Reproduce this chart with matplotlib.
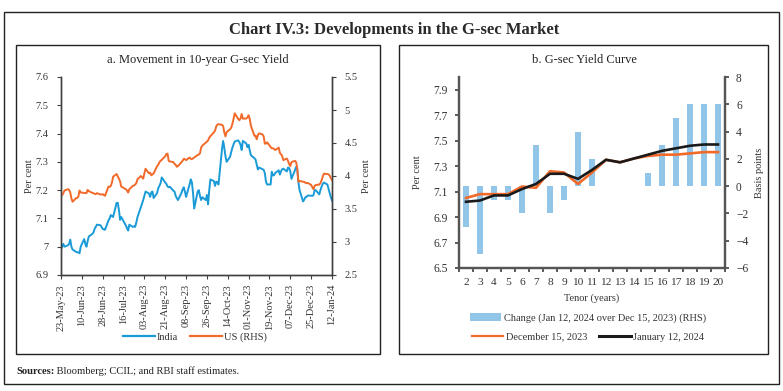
import matplotlib
matplotlib.use("Agg")
import matplotlib.pyplot as plt
import matplotlib.ticker as mticker
from matplotlib.patches import Rectangle, Patch
from matplotlib.lines import Line2D
import pandas as pd
import numpy as np

# ---------------- data ----------------
start_date = "2023-05-23"
end_date = "2024-01-12"

india_yield = [
    6.99, 7.00, 7.01, 7.00,
    7.005, 7.01, 7.025, 7.00, 6.99,
    6.982, 6.98, 6.98, 6.977, 7.00,
    7.027, 7.01, 7.00, 7.02, 7.036,
    7.045, 7.05, 7.063, 7.07, 7.078,
    7.076, 7.07, 7.063, 7.061, 7.06,
    7.093, 7.10, 7.112, 7.108, 7.105,
    7.155, 7.155, 7.13, 7.095, 7.105,
    7.083, 7.075, 7.065, 7.057, 7.078,
    7.07, 7.072, 7.07, 7.085, 7.104,
    7.14, 7.151, 7.165, 7.18, 7.195,
    7.188, 7.176, 7.192, 7.195, 7.172,
    7.19, 7.207, 7.215, 7.225, 7.245,
    7.227, 7.222, 7.213, 7.21, 7.212,
    7.198, 7.195, 7.18, 7.172, 7.165,
    7.19, 7.202, 7.21, 7.195, 7.176,
    7.22, 7.238, 7.228, 7.19, 7.135,
    7.195, 7.20, 7.18, 7.165, 7.175,
    7.165, 7.183, 7.15, 7.20, 7.238,
    7.232, 7.215, 7.23, 7.228, 7.22,
    7.344, 7.374, 7.35, 7.32, 7.30,
    7.318, 7.335, 7.35, 7.362, 7.372,
    7.376, 7.37, 7.36, 7.342, 7.374,
    7.365, 7.352, 7.36, 7.34, 7.323,
    7.313, 7.308, 7.29, 7.273, 7.28,
    7.274, 7.272, 7.26, 7.23, 7.22,
    7.22, 7.265, 7.252, 7.253, 7.261,
    7.27, 7.255, 7.267, 7.274, 7.276,
    7.266, 7.28, 7.278, 7.266, 7.24,
    7.27, 7.282, 7.272, 7.228, 7.20,
    7.16, 7.166, 7.175, 7.176, 7.181,
    7.18, 7.18, 7.182, 7.20, 7.20,
    7.185, 7.20, 7.212, 7.222, 7.227,
    7.22, 7.205, 7.19, 7.175, 7.163,
]

us_yield = [
    3.70, 3.71, 3.74, 3.78,
    3.80, 3.79, 3.75, 3.66, 3.61,
    3.665, 3.665, 3.69, 3.78, 3.75,
    3.745, 3.745, 3.74, 3.79, 3.77,
    3.745, 3.74, 3.73, 3.725, 3.74,
    3.72, 3.72, 3.725, 3.71, 3.70,
    3.84, 3.835, 3.85, 3.90, 3.99,
    4.03, 3.995, 3.96, 3.92, 3.84,
    3.81, 3.80, 3.78, 3.75, 3.80,
    3.85, 3.855, 3.87, 3.89, 3.95,
    4.00, 3.98, 3.96, 4.04, 4.11,
    4.04, 4.05, 4.01, 4.025, 4.04,
    4.15, 4.17, 4.21, 4.23, 4.245,
    4.30, 4.333, 4.34, 4.23, 4.22,
    4.21, 4.185, 4.17, 4.14, 4.15,
    4.21, 4.23, 4.26, 4.255, 4.24,
    4.28, 4.26, 4.255, 4.268, 4.28,
    4.318, 4.325, 4.343, 4.43, 4.46,
    4.505, 4.52, 4.54, 4.58, 4.604,
    4.66, 4.687, 4.75, 4.78, 4.785,
    4.776, 4.755, 4.66, 4.60, 4.665,
    4.707, 4.735, 4.79, 4.865, 4.95,
    4.865, 4.845, 4.87, 4.94, 4.87,
    4.87, 4.89, 4.92, 4.86, 4.76,
    4.61, 4.61, 4.556, 4.62, 4.646,
    4.63, 4.60, 4.49, 4.49, 4.51,
    4.44, 4.42, 4.42, 4.41, 4.394,
    4.43, 4.35, 4.33, 4.30, 4.24,
    4.265, 4.23, 4.18, 4.15, 4.21,
    4.23, 4.21, 4.12, 3.914, 3.925,
    3.914, 3.91, 3.898, 3.89, 3.895,
    3.865, 3.83, 3.80, 3.85, 3.864,
    3.87, 3.89, 3.935, 3.99, 4.035,
    4.03, 4.025, 4.005, 3.97, 3.94,
]

tenors = [2, 3, 4, 5, 6, 7, 8, 9, 10, 11, 12, 13, 14, 15, 16, 17, 18, 19, 20]
yield_dec15 = [7.05, 7.08, 7.08, 7.08, 7.14, 7.13, 7.26, 7.25, 7.16, 7.25,
               7.35, 7.33, 7.36, 7.38, 7.39, 7.39, 7.40, 7.41, 7.41]
yield_jan12 = [7.02, 7.03, 7.07, 7.07, 7.12, 7.16, 7.24, 7.24, 7.20, 7.27,
               7.35, 7.33, 7.36, 7.39, 7.42, 7.44, 7.46, 7.47, 7.47]
change_bps = [-3, -5, -1, -1, -2, 3, -2, -1, 4, 2, 0, 0, 0, 1, 3, 5, 6, 6, 6]

# ---------------- style ----------------
W, H = 783, 391
FONT = "Liberation Serif"
plt.rcParams["font.family"] = [FONT, "DejaVu Serif"]
plt.rcParams["font.size"] = 7.5
TXT = "#333333"
SPINE = "#404040"
C_INDIA = "#1a9bd7"
C_US = "#f26a2a"
C_BAR = "#92c6e8"
C_DEC = "#f26a2a"
C_JAN = "#1a1a1a"

fig = plt.figure(figsize=(W / 100, H / 100), dpi=100)


def fx(px):
    return px / W


def fy(py):
    return 1 - py / H


def rect(x0, y0, x1, y1, lw=1.0):
    fig.patches.append(Rectangle((fx(x0), fy(y1)), fx(x1) - fx(x0), fy(y0) - fy(y1),
                                 transform=fig.transFigure, fill=False,
                                 edgecolor="#222222", linewidth=lw))


# frames
rect(4, 12, 779, 384, 1.0)
rect(16, 45, 380, 354, 1.0)
rect(399, 45, 768, 354, 1.0)

fig.text(fx(394), fy(30), "Chart IV.3: Developments in the G-sec Market", ha="center", va="center",
         fontsize=12, fontweight="bold", color="#2a2a2a")

# ---------------- panel a ----------------
dates = pd.bdate_range(start_date, end_date)
n = min(len(dates), len(india_yield), len(us_yield))
dates = dates[:n]

axa = fig.add_axes([fx(61), fy(275), fx(332) - fx(61), fy(77) - fy(275)])
axa2 = axa.twinx()
axa.plot(dates, india_yield[:n], color=C_INDIA, lw=1.4)
axa2.plot(dates, us_yield[:n], color=C_US, lw=1.4)

axa.set_ylim(6.9, 7.6)
axa.yaxis.set_major_locator(mticker.MultipleLocator(0.1))
axa.yaxis.set_major_formatter(mticker.FuncFormatter(lambda v, p: f"{round(v, 2):g}"))
axa2.set_ylim(2.5, 5.5)
axa2.yaxis.set_major_locator(mticker.MultipleLocator(0.5))
axa2.yaxis.set_major_formatter(mticker.FuncFormatter(lambda v, p: f"{round(v, 2):g}"))

d0 = pd.Timestamp(start_date)
d1 = pd.Timestamp(end_date)
axa.set_xlim(d0, d1)
xt = pd.date_range(d0, d1, freq="18D")
axa.set_xticks(xt)
axa.set_xticklabels([d.strftime("%d-%b-%y") for d in xt], rotation=90)

for a in (axa, axa2):
    a.spines["top"].set_visible(False)
    for s in ("left", "right", "bottom"):
        a.spines[s].set_color(SPINE)
        a.spines[s].set_linewidth(1.0)
    a.tick_params(colors=SPINE, labelcolor=TXT, length=3, width=0.8, labelsize=7.5)
axa.tick_params(axis="y", pad=6)
axa2.tick_params(axis="y", pad=6)
axa.set_ylabel("Per cent", color=TXT, fontsize=7.5, labelpad=1)
axa2.set_ylabel("Per cent", color=TXT, fontsize=7.5, labelpad=3)

fig.text(fx(198), fy(60), "a. Movement in 10-year G-sec Yield", ha="center", va="center",
         fontsize=9, color="#222222")

fig.legend(handles=[Line2D([], [], color=C_INDIA, lw=1.6, label="India"),
                    Line2D([], [], color=C_US, lw=1.6, label="US (RHS)")],
           loc="center", bbox_to_anchor=(fx(195), fy(337)), ncol=2, frameon=False,
           fontsize=7.5, handlelength=3.0, columnspacing=1.2, handletextpad=0.2,
           labelcolor=TXT)

# ---------------- panel b ----------------
axb = fig.add_axes([fx(459), fy(268), fx(725) - fx(459), fy(77) - fy(268)])
axb2 = axb.twinx()
axb2.bar(tenors, change_bps, width=0.48, color=C_BAR, zorder=1)
axb.plot(tenors, yield_dec15, color=C_DEC, lw=1.9, zorder=3)
axb.plot(tenors, yield_jan12, color=C_JAN, lw=1.9, zorder=4)
axb.set_zorder(axb2.get_zorder() + 1)
axb.patch.set_visible(False)

axb.set_ylim(6.5, 8.0)
axb.set_yticks(np.arange(6.5, 7.91, 0.2))
axb.yaxis.set_major_formatter(mticker.FuncFormatter(lambda v, p: f"{v:.1f}"))
axb2.set_ylim(-6, 8)
axb2.yaxis.set_major_locator(mticker.MultipleLocator(2))
axb.set_xlim(tenors[0] - 0.5, tenors[-1] + 0.5)
axb.set_xticks(tenors)
axb.set_xticklabels([str(t) for t in tenors])
axb.set_xticks(np.arange(tenors[0] - 0.5, tenors[-1] + 0.6, 1), minor=True)
axb.tick_params(axis="x", which="major", length=0, pad=7)
axb.tick_params(axis="x", which="minor", length=3, width=1.2, colors=SPINE)

for a in (axb, axb2):
    a.spines["top"].set_visible(False)
    for s in ("left", "right", "bottom"):
        a.spines[s].set_color("#555555")
        a.spines[s].set_linewidth(1.6)
    a.tick_params(axis="y", colors=SPINE, labelcolor=TXT, length=3, width=1.2, labelsize=8.3, pad=5)
axb.tick_params(axis="x", labelcolor=TXT, labelsize=8.2)
axb.set_ylabel("Per cent", color=TXT, fontsize=7.5, labelpad=8)
axb2.set_ylabel("Basis points", color=TXT, fontsize=7.5, labelpad=5)
axb.set_xlabel("Tenor (years)", color=TXT, fontsize=7.5, labelpad=5)

fig.text(fx(584), fy(60), "b. G-sec Yield Curve", ha="center", va="center",
         fontsize=9, color="#222222")

fig.legend(handles=[Patch(facecolor=C_BAR, edgecolor="none",
                          label="Change (Jan 12, 2024 over Dec 15, 2023) (RHS)")],
           loc="center", bbox_to_anchor=(fx(588), fy(318)), frameon=False, fontsize=7.5,
           handlelength=3.0, handleheight=0.7, handletextpad=0.25, labelcolor=TXT)
fig.legend(handles=[Line2D([], [], color=C_DEC, lw=1.6, label="December 15, 2023"),
                    Line2D([], [], color=C_JAN, lw=2.2, label="January 12, 2024")],
           loc="center", bbox_to_anchor=(fx(588), fy(337)), ncol=2, frameon=False,
           fontsize=7.5, handlelength=3.0, columnspacing=1.2, handletextpad=0.25,
           labelcolor=TXT)

# sources
t1 = fig.text(fx(16), fy(371), "Sources:", ha="left", va="center", fontsize=7.6,
              fontweight="bold", color="#222222")
axa.annotate(" Bloomberg; CCIL; and RBI staff estimates.", xy=(1, 0.5), xycoords=t1,
             ha="left", va="center", fontsize=7.6, color="#222222", annotation_clip=False)

fig.savefig("out.png", dpi=100)
